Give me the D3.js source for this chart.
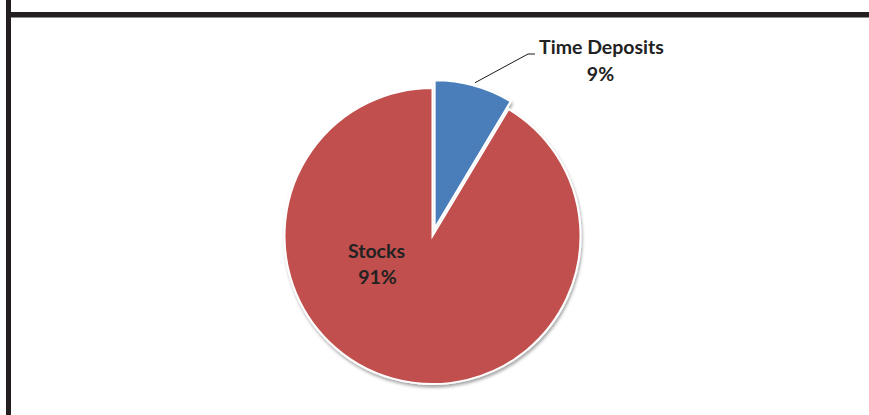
<!DOCTYPE html>
<html>
<head>
<meta charset="utf-8">
<script src="https://cdn.jsdelivr.net/npm/d3@7"></script>
<style>
  html, body { margin: 0; padding: 0; background: #fff; }
  svg { display: block; }
  .lbl { font-family: Lato, "Open Sans", sans-serif; font-weight: bold; font-size: 19.5px; fill: #222; }
</style>
</head>
<body>
<svg></svg>
<script>
// data
const categories = ["Time Deposits", "Stocks"];
const shares = [8.6, 91.4];
const colors = ["#4A7EBB", "#C0504D"];
const exploded = [8, 0]; // pull-out distance per slice

const width = 869, height = 415;
const cx = 432.5, cy = 236, radius = 148;

const svg = d3.select("svg")
    .attr("width", width)
    .attr("height", height);

// drop shadow like the spreadsheet pie
const defs = svg.append("defs");
const f = defs.append("filter").attr("id", "shadow")
    .attr("x", "-10%").attr("y", "-10%").attr("width", "120%").attr("height", "120%");
f.append("feDropShadow")
    .attr("dx", 1).attr("dy", 2.5).attr("stdDeviation", 1.6)
    .attr("flood-color", "#000").attr("flood-opacity", 0.35);

// frame lines
svg.append("rect").attr("x", 6).attr("y", 0).attr("width", 5).attr("height", height).attr("fill", "#231f20");
svg.append("rect").attr("x", 6).attr("y", 12).attr("width", width - 6).attr("height", 5.5).attr("fill", "#231f20");

const data = categories.map((c, i) => ({ name: c, value: shares[i], color: colors[i], pull: exploded[i] }));

const pie = d3.pie().sort(null).value(d => d.value);
const arcs = pie(data);

const arc = d3.arc().innerRadius(0).outerRadius(radius);

const g = svg.append("g")
    .attr("transform", `translate(${cx},${cy})`)
    .attr("filter", "url(#shadow)");

function shift(d) {
  const a = (d.startAngle + d.endAngle) / 2;
  return [Math.sin(a) * d.data.pull, -Math.cos(a) * d.data.pull];
}

g.selectAll("path")
    .data(arcs)
    .join("path")
    .attr("d", arc)
    .attr("transform", d => `translate(${shift(d)})`)
    .attr("fill", d => d.data.color)
    .attr("stroke", "#fff")
    .attr("stroke-width", 2)
    .attr("stroke-linejoin", "miter");

const fmt = v => Math.round(v) + "%";

// Stocks label inside the slice
const stocks = arcs[1];
const labels = svg.append("g");
const sx = cx - 56, sy = cy + 22;
labels.append("text").attr("class", "lbl").attr("text-anchor", "middle")
    .attr("x", sx).attr("y", sy).text(stocks.data.name);
labels.append("text").attr("class", "lbl").attr("text-anchor", "middle")
    .attr("x", sx + 1).attr("y", sy + 26).text(fmt(stocks.data.value));

// Time Deposits label with leader line
const td = arcs[0];
const mid = (td.startAngle + td.endAngle) / 2;
const [ox, oy] = shift(td);
const p0 = [cx + ox + Math.sin(mid) * (radius + 3), cy + oy - Math.cos(mid) * (radius + 3)];
const elbow = [cx + 95.5, cy - 182];
const p2 = [elbow[0] + 7, elbow[1]];

svg.append("path")
    .attr("d", d3.line()([p0, elbow, p2]))
    .attr("fill", "none")
    .attr("stroke", "#1a1a1a")
    .attr("stroke-width", 1);

const tx = cx + 169, ty = cy - 182;
labels.append("text").attr("class", "lbl").attr("text-anchor", "middle")
    .attr("x", tx).attr("y", ty).text(td.data.name);
labels.append("text").attr("class", "lbl").attr("text-anchor", "middle")
    .attr("x", tx - 1).attr("y", ty + 27).text(fmt(td.data.value));
</script>
</body>
</html>
